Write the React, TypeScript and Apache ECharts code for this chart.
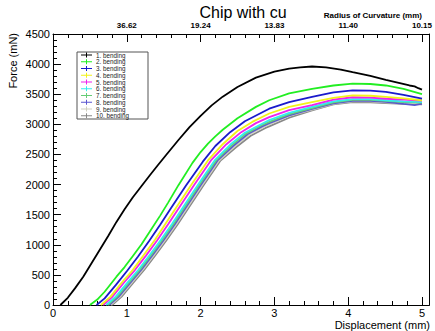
import React, { useEffect, useRef } from "react";
import * as echarts from "echarts";

const seriesNames = [
  "1. bending", "2. bending", "3. bending", "4. bending", "5. bending",
  "6. bending", "7. bending", "8. bending", "9. bending", "10. bending",
];
const seriesColors = [
  "#000000", "#22ee22", "#1a1acc", "#f2f21a", "#ee22ee",
  "#33eeee", "#66cc77", "#5a55d0", "#cfcfbf", "#888888",
];

const s1 = [[0.10,0],[0.2,120],[0.3,280],[0.41,470],[0.52,690],[0.63,910],[0.75,1150],[0.86,1380],[0.97,1590],[1.08,1785],[1.2,1975],[1.31,2150],[1.42,2320],[1.53,2486],[1.7,2740],[1.85,2955],[2.0,3140],[2.15,3315],[2.3,3460],[2.5,3620],[2.75,3775],[3.0,3875],[3.2,3925],[3.35,3945],[3.51,3960],[3.7,3945],[3.9,3910],[4.06,3867],[4.3,3805],[4.51,3740],[4.7,3685],[4.83,3645],[4.9,3630],[4.95,3600],[5.0,3575]];
const s2 = [[0.50,0],[0.6,90],[0.7,220],[0.86,470],[0.97,630],[1.08,810],[1.2,1010],[1.31,1215],[1.45,1480],[1.56,1700],[1.7,1990],[1.89,2360],[2.0,2540],[2.1,2680],[2.2,2800],[2.3,2910],[2.5,3100],[2.75,3290],[2.93,3400],[3.2,3515],[3.51,3590],[3.8,3645],[4.06,3675],[4.3,3670],[4.51,3645],[4.75,3590],[5.0,3500]];
const s3 = [[0.59,0],[0.7,110],[0.85,330],[1.0,560],[1.15,800],[1.3,1060],[1.45,1330],[1.6,1610],[1.8,1980],[2.03,2380],[2.2,2640],[2.4,2870],[2.6,3050],[2.93,3260],[3.2,3370],[3.51,3455],[3.8,3530],[4.06,3565],[4.3,3560],[4.51,3540],[4.75,3490],[5.0,3425]];
const s4 = [[0.65,0],[0.78,140],[0.93,370],[1.08,580],[1.23,830],[1.38,1080],[1.52,1340],[1.67,1620],[1.87,1990],[2.10,2400],[2.3,2670],[2.5,2890],[2.7,3040],[2.93,3180],[3.2,3290],[3.51,3370],[3.8,3440],[4.06,3480],[4.3,3475],[4.51,3455],[4.75,3430],[5.0,3400]];
const s5 = [[0.68,0],[0.8,130],[0.96,370],[1.11,580],[1.26,820],[1.41,1070],[1.56,1340],[1.71,1620],[1.91,1990],[2.14,2400],[2.35,2670],[2.55,2870],[2.75,3020],[2.93,3120],[3.2,3235],[3.51,3320],[3.8,3410],[4.06,3450],[4.3,3445],[4.51,3425],[4.75,3410],[5.0,3395]];
const s6 = [[0.72,0],[0.85,140],[1.0,360],[1.16,590],[1.31,830],[1.46,1080],[1.61,1340],[1.76,1620],[1.96,1990],[2.19,2400],[2.4,2660],[2.6,2860],[2.8,2990],[2.93,3070],[3.2,3190],[3.51,3290],[3.8,3380],[4.06,3420],[4.3,3420],[4.51,3400],[4.75,3380],[5.0,3370]];
const s7 = [[0.74,0],[0.87,140],[1.02,360],[1.18,590],[1.33,830],[1.48,1080],[1.63,1340],[1.78,1620],[1.98,1990],[2.21,2400],[2.42,2650],[2.62,2850],[2.82,2980],[2.93,3040],[3.2,3170],[3.51,3270],[3.8,3365],[4.06,3405],[4.3,3405],[4.51,3390],[4.75,3370],[5.0,3360]];
const s8 = [[0.76,0],[0.89,140],[1.04,360],[1.2,590],[1.35,830],[1.5,1080],[1.65,1340],[1.8,1620],[2.0,1990],[2.23,2400],[2.44,2640],[2.64,2840],[2.84,2970],[2.93,3020],[3.2,3150],[3.51,3255],[3.8,3350],[4.06,3390],[4.3,3390],[4.51,3375],[4.75,3340],[4.9,3320],[5.0,3345]];
const s9 = [[0.78,0],[0.91,140],[1.06,360],[1.22,590],[1.37,830],[1.52,1080],[1.67,1340],[1.82,1620],[2.02,1990],[2.25,2400],[2.46,2630],[2.66,2830],[2.86,2960],[2.93,3000],[3.2,3140],[3.51,3245],[3.8,3340],[4.06,3380],[4.3,3380],[4.51,3365],[4.75,3350],[5.0,3350]];
const s10 = [[0.80,0],[0.93,140],[1.08,360],[1.24,590],[1.39,830],[1.54,1080],[1.69,1340],[1.84,1620],[2.04,1990],[2.27,2400],[2.48,2620],[2.68,2810],[2.88,2940],[2.93,2965],[3.2,3110],[3.51,3233],[3.8,3330],[4.06,3370],[4.3,3365],[4.51,3354],[4.75,3340],[5.0,3331]];
const allSeries = [s1, s2, s3, s4, s5, s6, s7, s8, s9, s10];

const xTicks = ["0", "1", "2", "3", "4", "5"];
const radiusTicks = ["", "36.62", "19.24", "13.83", "11.40", "10.15"];

const FONT = "Liberation Sans, Arial, Helvetica, sans-serif";

export default function App() {
  const ref = useRef<HTMLDivElement>(null);
  useEffect(() => {
    if (!ref.current) return;
    const chart = echarts.init(ref.current, undefined, { renderer: "svg" });

    const gridLeft = 53, gridRight = 5, gridTop = 34, gridBottom = 26;
    const legX = 77, legY = 52, legW = 71, legH = 67;
    const rowH = 6.75;

    const legendEls: any[] = [
      {
        type: "rect",
        shape: { x: legX, y: legY, width: legW, height: legH },
        style: { fill: "#ffffff", stroke: "#555555", lineWidth: 1 },
        z: 100,
      },
    ];
    seriesNames.forEach((n, i) => {
      const cy = legY + 3 + i * rowH;
      legendEls.push({
        type: "line",
        shape: { x1: legX + 4, y1: cy, x2: legX + 15, y2: cy },
        style: { stroke: seriesColors[i], lineWidth: 1 },
        z: 101,
      });
      legendEls.push({
        type: "line",
        shape: { x1: legX + 9.5, y1: cy - 2.5, x2: legX + 9.5, y2: cy + 2.5 },
        style: { stroke: seriesColors[i], lineWidth: 1 },
        z: 101,
      });
      legendEls.push({
        type: "text",
        x: legX + 19,
        y: cy,
        style: {
          text: n,
          fill: "#222222",
          font: `6.3px ${FONT}`,
          verticalAlign: "middle",
          align: "left",
        },
        z: 101,
      });
    });

    const option: any = {
      animation: false,
      backgroundColor: "#ffffff",
      grid: { left: gridLeft, right: gridRight, top: gridTop, bottom: gridBottom, containLabel: false },
      xAxis: [
        {
          type: "value",
          position: "bottom",
          min: 0,
          max: 5.1,
          interval: 1,
          axisLine: { show: true, onZero: false, lineStyle: { color: "#000", width: 1 } },
          axisTick: { show: true, inside: true, length: 8, lineStyle: { color: "#000" } },
          minorTick: { show: true, splitNumber: 5, length: 4, lineStyle: { color: "#000" } },
          splitLine: { show: false },
          axisLabel: {
            fontFamily: FONT,
            fontSize: 11,
            color: "#000",
            margin: 2,
            formatter: (v: number) => (v > 5.01 ? "" : xTicks[Math.round(v)] ?? ""),
          },
        },
        {
          type: "value",
          position: "top",
          min: 0,
          max: 5.1,
          interval: 1,
          axisLine: { show: true, onZero: false, lineStyle: { color: "#000", width: 1 } },
          axisTick: { show: true, inside: true, length: 8, lineStyle: { color: "#000" } },
          minorTick: { show: true, splitNumber: 5, length: 4, lineStyle: { color: "#000" } },
          splitLine: { show: false },
          axisLabel: {
            fontFamily: FONT,
            fontSize: 8,
            fontWeight: "bold",
            color: "#000",
            margin: 5,
            formatter: (v: number) => (v > 5.01 ? "" : radiusTicks[Math.round(v)] ?? ""),
          },
        },
      ],
      yAxis: [
        {
          type: "value",
          position: "left",
          min: 0,
          max: 4500,
          interval: 500,
          axisLine: { show: true, onZero: false, lineStyle: { color: "#000", width: 1 } },
          axisTick: { show: true, inside: true, length: 8, lineStyle: { color: "#000" } },
          minorTick: { show: true, splitNumber: 5, length: 4, lineStyle: { color: "#000" } },
          splitLine: { show: false },
          axisLabel: {
            fontFamily: FONT,
            fontSize: 11,
            color: "#000",
            margin: 3,
            formatter: (v: number) => String(v),
          },
        },
        {
          type: "value",
          position: "right",
          min: 0,
          max: 4500,
          interval: 500,
          axisLine: { show: true, onZero: false, lineStyle: { color: "#000", width: 1 } },
          axisTick: { show: false },
          splitLine: { show: false },
          axisLabel: { show: false },
        },
      ],
      graphic: [
        {
          type: "text",
          x: 243,
          y: 12,
          style: {
            text: "Chip with cu",
            fill: "#000",
            font: `16px ${FONT}`,
            align: "center",
            verticalAlign: "middle",
          },
        },
        {
          type: "text",
          x: 422,
          y: 15,
          style: {
            text: "Radius of Curvature (mm)",
            fill: "#000",
            font: `bold 8px ${FONT}`,
            align: "right",
            verticalAlign: "middle",
          },
        },
        {
          type: "text",
          x: 430,
          y: 325,
          style: {
            text: "Displacement (mm)",
            fill: "#000",
            font: `11px ${FONT}`,
            align: "right",
            verticalAlign: "middle",
          },
        },
        {
          type: "text",
          x: 13,
          y: 33,
          rotation: Math.PI / 2,
          style: {
            text: "Force (mN)",
            fill: "#000",
            font: `11px ${FONT}`,
            align: "right",
            verticalAlign: "middle",
          },
        },
        ...legendEls,
      ],
      series: allSeries.map((d, i) => ({
        type: "line",
        name: seriesNames[i],
        data: d,
        xAxisIndex: 0,
        yAxisIndex: 0,
        showSymbol: false,
        symbol: "none",
        smooth: false,
        lineStyle: { color: seriesColors[i], width: 1.8 },
        z: 20 - i,
      })),
    };
    chart.setOption(option);
    return () => chart.dispose();
  }, []);
  return (
    <div
      ref={ref}
      style={{ position: "fixed", left: 0, top: 0, width: 435, height: 331 }}
    />
  );
}
